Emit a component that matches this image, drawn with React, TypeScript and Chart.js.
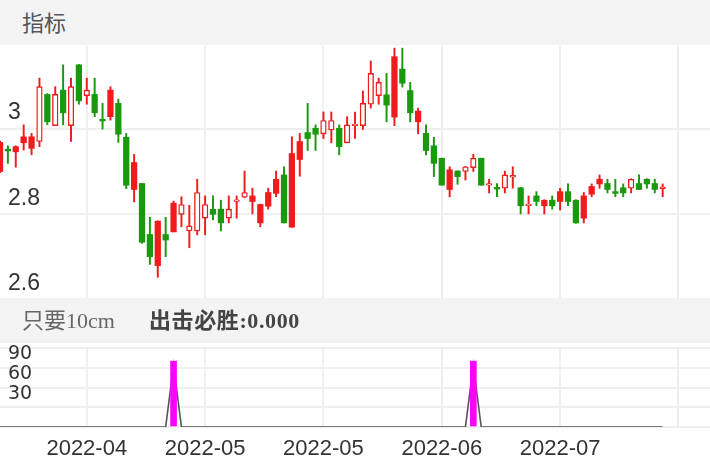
import React, { useEffect, useRef } from 'react';
import { Chart, registerables } from 'chart.js';

Chart.register(...registerables);

// Trading days (categories), incl. empty slots to the right of the last candle
const dates = [
  '2022-03-23', '2022-03-24', '2022-03-25', '2022-03-28', '2022-03-29', '2022-03-30', '2022-03-31',
  '2022-04-01', '2022-04-06', '2022-04-07', '2022-04-08', '2022-04-11', '2022-04-12', '2022-04-13',
  '2022-04-14', '2022-04-15', '2022-04-18', '2022-04-19', '2022-04-20', '2022-04-21', '2022-04-22',
  '2022-04-25', '2022-04-26', '2022-04-27', '2022-04-28', '2022-04-29', '2022-05-05', '2022-05-06',
  '2022-05-09', '2022-05-10', '2022-05-11', '2022-05-12', '2022-05-13', '2022-05-16', '2022-05-17',
  '2022-05-18', '2022-05-19', '2022-05-20', '2022-05-23', '2022-05-24', '2022-05-25', '2022-05-26',
  '2022-05-27', '2022-05-30', '2022-05-31', '2022-06-01', '2022-06-02', '2022-06-06', '2022-06-07',
  '2022-06-08', '2022-06-09', '2022-06-10', '2022-06-13', '2022-06-14', '2022-06-15', '2022-06-16',
  '2022-06-17', '2022-06-20', '2022-06-21', '2022-06-22', '2022-06-23', '2022-06-24', '2022-06-27',
  '2022-06-28', '2022-06-29', '2022-06-30', '2022-07-01', '2022-07-04', '2022-07-05', '2022-07-06',
  '2022-07-07', '2022-07-08', '2022-07-11', '2022-07-12', '2022-07-13', '2022-07-14', '2022-07-15',
  '2022-07-18', '2022-07-19', '2022-07-20', '2022-07-21', '2022-07-22', '2022-07-25', '2022-07-26',
  '2022-07-27', '2022-07-28', '2022-07-29', '2022-08-01', '2022-08-02', '2022-08-03', '2022-08-04',
];

const opens = [
  2.900, 2.952, 2.946, 2.967, 2.954, 2.970, 3.080, 3.007, 3.090, 3.007,
  3.149, 3.077, 3.080, 3.022, 3.028, 3.059, 2.980, 2.858, 2.872, 2.753,
  2.680, 2.753, 2.759, 2.800, 2.761, 2.761, 2.791, 2.812, 2.812, 2.791,
  2.830, 2.840, 2.830, 2.780, 2.819, 2.849, 2.892, 2.770, 2.928, 2.991,
  3.001, 2.988, 2.997, 3.001, 2.967, 3.007, 3.007, 3.057, 3.077, 3.079,
  3.027, 3.139, 3.089, 3.016, 2.989, 2.960, 2.931, 2.858, 2.901, 2.900,
  2.909, 2.931, 2.868, 2.863, 2.861, 2.887, 2.862, 2.820, 2.843, 2.820,
  2.833, 2.830, 2.853, 2.833, 2.791, 2.847, 2.871, 2.872, 2.853, 2.862,
  2.861, 2.872, 2.882, 2.872, 2.860,
];
const highs = [
  2.971, 2.960, 2.960, 3.009, 2.989, 3.118, 3.082, 3.098, 3.149, 3.118,
  3.150, 3.118, 3.118, 3.059, 3.098, 3.069, 2.989, 2.940, 2.872, 2.793,
  2.785, 2.793, 2.831, 2.841, 2.821, 2.882, 2.843, 2.843, 2.833, 2.843,
  2.843, 2.901, 2.861, 2.824, 2.861, 2.901, 2.911, 2.981, 2.989, 3.059,
  3.009, 3.039, 3.039, 3.009, 3.028, 3.039, 3.088, 3.158, 3.118, 3.129,
  3.188, 3.188, 3.108, 3.048, 3.009, 2.980, 2.931, 2.911, 2.902, 2.912,
  2.940, 2.931, 2.882, 2.872, 2.901, 2.911, 2.863, 2.843, 2.853, 2.834,
  2.843, 2.861, 2.871, 2.834, 2.851, 2.871, 2.892, 2.882, 2.882, 2.871,
  2.883, 2.892, 2.883, 2.882, 2.871,
];
const lows = [
  2.897, 2.919, 2.910, 2.950, 2.939, 2.958, 3.009, 3.007, 3.009, 2.970,
  3.057, 3.057, 3.028, 2.999, 3.020, 2.968, 2.860, 2.829, 2.732, 2.683,
  2.653, 2.701, 2.759, 2.771, 2.722, 2.752, 2.752, 2.787, 2.761, 2.780,
  2.791, 2.839, 2.801, 2.771, 2.812, 2.841, 2.780, 2.770, 2.889, 2.949,
  2.949, 2.977, 2.967, 2.939, 2.967, 2.977, 2.998, 3.048, 3.057, 3.016,
  3.007, 3.097, 3.016, 2.988, 2.939, 2.888, 2.868, 2.841, 2.870, 2.880,
  2.900, 2.868, 2.850, 2.841, 2.850, 2.861, 2.801, 2.801, 2.820, 2.801,
  2.812, 2.810, 2.820, 2.779, 2.780, 2.841, 2.861, 2.850, 2.841, 2.841,
  2.850, 2.858, 2.861, 2.850, 2.841,
];
const closes = [
  2.968, 2.948, 2.958, 2.981, 2.981, 3.098, 3.016, 3.080, 3.037, 3.098,
  3.065, 3.090, 3.037, 3.018, 3.090, 2.987, 2.868, 2.921, 2.735, 2.701,
  2.784, 2.740, 2.826, 2.823, 2.773, 2.851, 2.823, 2.800, 2.780, 2.812,
  2.834, 2.851, 2.843, 2.823, 2.851, 2.882, 2.780, 2.942, 2.970, 2.977,
  2.987, 3.019, 3.019, 2.958, 3.009, 3.011, 3.059, 3.129, 3.108, 3.055,
  3.168, 3.106, 3.037, 3.041, 2.949, 2.919, 2.868, 2.904, 2.888, 2.911,
  2.931, 2.868, 2.872, 2.859, 2.892, 2.891, 2.820, 2.824, 2.830, 2.833,
  2.820, 2.853, 2.830, 2.780, 2.843, 2.865, 2.882, 2.858, 2.849, 2.850,
  2.882, 2.858, 2.871, 2.858, 2.864,
];

// Rising days that the indicator paints as solid red bars
const solidUpDays = [
  '2022-03-23', '2022-03-25', '2022-03-28', '2022-03-29', '2022-04-14', '2022-04-19',
  '2022-04-22', '2022-04-26', '2022-05-13', '2022-05-16', '2022-05-17', '2022-05-18',
  '2022-05-20', '2022-05-23', '2022-06-09', '2022-06-14', '2022-06-20', '2022-07-06',
  '2022-07-08', '2022-07-13', '2022-07-14', '2022-07-15',
];

// X axis ticks
const axisTickDates = ['2022-04-11', '2022-05-05', '2022-05-26', '2022-06-17', '2022-07-08', '2022-07-29'];
const axisTickLabels = ['2022-04', '2022-05', '2022-05', '2022-06', '2022-07', ''];

// Price axis
const priceMin = 2.6;
const priceMax = 3.193;
const priceStep = 0.2;

// Lower indicator panel
const strikeDays = ['2022-04-26', '2022-06-23'];
const strikeBars = [100, 100];
const signalLine = [
  0, 0, 0, 0, 0, 0, 0, 0, 0, 0, 0, 0, 0, 0, 0, 0, 0,
  0, 0, 0, 0, 0, 94, 0, 0, 0, 0, 0, 0, 0, 0, 0, 0, 0,
  0, 0, 0, 0, 0, 0, 0, 0, 0, 0, 0, 0, 0, 0, 0, 0, 0,
  0, 0, 0, 0, 0, 0, 0, 0, 0, 94, 0, 0, 0, 0, 0, 0, 0,
  0, 0, 0, 0, 0, 0, 0, 0, 0, 0, 0, 0, 0, 0, 0, 0, 0,
];
const signalTicks = [30, 60, 90];
const signalMax = 120;
const signalStep = 30;

const RED = '#ee1c1c';
const GREEN = '#1b990e';
const GRID = '#eeeff1';
const NONE = 'rgba(0,0,0,0)';
const SANS = "'Liberation Sans', Arial, sans-serif";

export default function App() {
  const topRef = useRef<HTMLCanvasElement>(null);
  const botRef = useRef<HTMLCanvasElement>(null);

  useEffect(() => {
    const up = (i: number) => closes[i] >= opens[i];
    const hollow = (i: number) => up(i) && !solidUpDays.includes(dates[i]);
    const colorAt = (i: number) => (up(i) ? RED : GREEN);
    const tickIdx = axisTickDates.map((d) => dates.indexOf(d));
    const xGrid = (ctx: any) => (tickIdx.includes(ctx.index) ? GRID : NONE);
    const isPriceTick = (v: number) => Math.abs(v / priceStep - Math.round(v / priceStep)) < 1e-6;

    const flatX = (s: any) => {
      s.height = 0;
      s.paddingLeft = 0;
      s.paddingRight = 0;
    };
    const flatY = (s: any) => {
      s.width = 0;
      s.paddingTop = 0;
      s.paddingBottom = 0;
    };

    const top = new Chart(topRef.current as HTMLCanvasElement, {
      type: 'bar',
      data: {
        labels: dates,
        datasets: [
          {
            label: 'body',
            data: opens.map((o, i) => [o, closes[i]]) as any,
            grouped: false,
            barThickness: 5.6,
            backgroundColor: (c: any) => (hollow(c.dataIndex) ? '#ffffff' : colorAt(c.dataIndex)),
            borderColor: (c: any) => colorAt(c.dataIndex),
            borderWidth: (c: any) => (hollow(c.dataIndex) ? 1.4 : 0),
            borderSkipped: false,
            order: 0,
          } as any,
          {
            label: 'wick',
            data: lows.map((l, i) => [l, highs[i]]) as any,
            grouped: false,
            barThickness: 1.3,
            backgroundColor: (c: any) => colorAt(c.dataIndex),
            borderWidth: 0,
            order: 1,
          } as any,
        ],
      },
      options: {
        responsive: false,
        animation: false,
        layout: { padding: 0 },
        plugins: { legend: { display: false }, tooltip: { enabled: false } },
        scales: {
          x: {
            offset: false,
            grid: { offset: false, color: xGrid, lineWidth: 2, drawTicks: false },
            border: { display: false },
            ticks: { display: false, autoSkip: false },
            afterFit: flatX,
          } as any,
          y: {
            min: priceMin,
            max: priceMax,
            grid: {
              color: (c: any) => (c.tick && isPriceTick(c.tick.value) ? GRID : NONE),
              lineWidth: 2,
              drawTicks: false,
            },
            border: { display: false },
            ticks: {
              stepSize: priceStep,
              autoSkip: false,
              mirror: true,
              padding: 8,
              labelOffset: -16,
              color: '#333',
              font: { family: SANS, size: 23 },
              callback: (v: any) => (isPriceTick(v) ? String(Math.round(v * 10) / 10) : ''),
            },
            afterFit: flatY,
          } as any,
        },
      },
    });

    const bot = new Chart(botRef.current as HTMLCanvasElement, {
      type: 'bar',
      data: {
        labels: dates,
        datasets: [
          {
            type: 'bar',
            label: 'strike',
            data: dates.map((d) => {
              const k = strikeDays.indexOf(d);
              return k >= 0 ? strikeBars[k] : null;
            }),
            backgroundColor: '#ff00ff',
            barThickness: 6,
            grouped: false,
            borderWidth: 0,
            order: 0,
          } as any,
          {
            type: 'line',
            label: 'signal',
            data: signalLine,
            borderColor: '#555555',
            borderWidth: 1.6,
            pointRadius: 0,
            tension: 0,
            fill: false,
            order: 1,
          } as any,
        ],
      },
      options: {
        responsive: false,
        animation: false,
        layout: { padding: { top: 5, left: 0, right: 0, bottom: 0 } },
        plugins: { legend: { display: false }, tooltip: { enabled: false } },
        scales: {
          x: {
            offset: false,
            grid: { offset: false, color: xGrid, lineWidth: 2, drawTicks: false },
            border: { display: false },
            ticks: {
              autoSkip: false,
              maxRotation: 0,
              minRotation: 0,
              padding: 9,
              color: '#333',
              font: { family: SANS, size: 22 },
              callback: (_v: any, i: number) => {
                const k = tickIdx.indexOf(i);
                return k >= 0 ? axisTickLabels[k] : '';
              },
            },
            afterFit: (s: any) => {
              s.height = 45;
              s.paddingLeft = 0;
              s.paddingRight = 0;
            },
          } as any,
          y: {
            min: 0,
            max: signalMax,
            grid: { color: GRID, lineWidth: 2, drawTicks: false },
            border: { display: false },
            ticks: {
              stepSize: signalStep,
              autoSkip: false,
              mirror: true,
              padding: 8,
              labelOffset: -13.5,
              color: '#333',
              font: { family: "'DejaVu Sans', sans-serif", size: 19, lineHeight: 1 },
              callback: (v: any) => (signalTicks.includes(v) ? String(v) : ''),
            },
            afterFit: flatY,
          } as any,
        },
      },
    });

    return () => {
      top.destroy();
      bot.destroy();
    };
  }, []);

  const band: React.CSSProperties = {
    position: 'absolute',
    left: 0,
    width: 710,
    height: 45,
    background: '#f3f3f3',
  };

  return (
    <div style={{ position: 'absolute', left: 0, top: 0, width: 710, height: 472, background: '#fff', overflow: 'hidden' }}>
      <canvas ref={topRef} width={710} height={254} style={{ position: 'absolute', left: 0, top: 46, width: 710, height: 254 }} />
      <canvas ref={botRef} width={710} height={129} style={{ position: 'absolute', left: 0, top: 343, width: 710, height: 129 }} />
      <div style={{ ...band, top: 0 }}>
        <span style={{ position: 'absolute', left: 22, top: 0, lineHeight: '42px', fontSize: 22, color: '#555', fontFamily: "'Noto Sans CJK SC', sans-serif" }}>指标</span>
      </div>
      <div style={{ ...band, top: 298 }}>
        <span style={{ position: 'absolute', left: 22, top: 0, lineHeight: '46px', fontSize: 22, color: '#666', fontFamily: "'Liberation Serif', 'Noto Sans CJK SC', serif" }}>只要10cm</span>
        <span style={{ position: 'absolute', left: 149, top: 0, lineHeight: '46px', fontSize: 22, fontWeight: 'bold', color: '#444', fontFamily: "'Liberation Serif', 'Noto Sans CJK SC', serif", letterSpacing: 0.6 }}>出击必胜:0.000</span>
      </div>
    </div>
  );
}
